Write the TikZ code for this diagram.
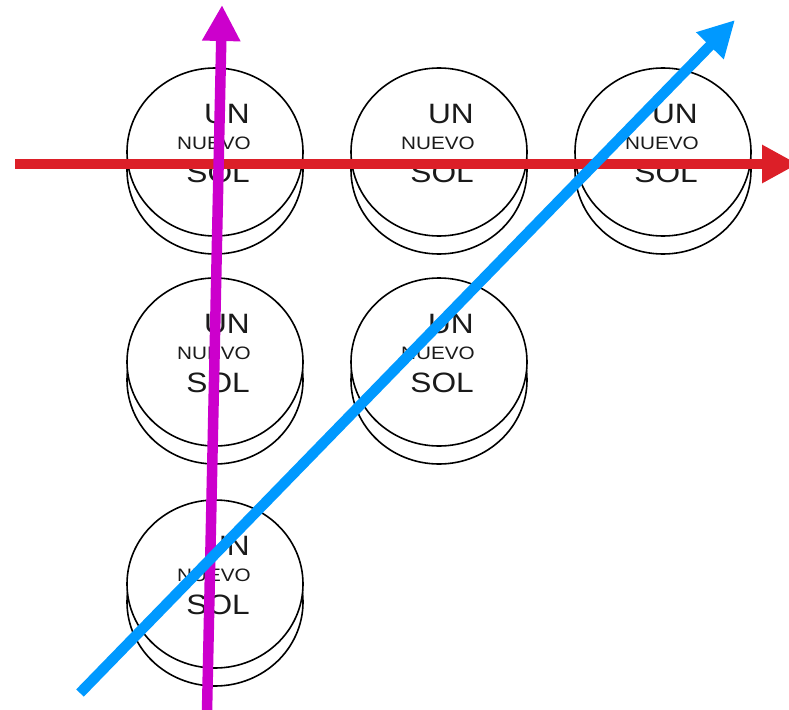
\documentclass[tikz,border=0pt]{standalone}
\usepackage{fontspec}
\setmainfont{Liberation Sans}
\usetikzlibrary{arrows.meta}
\definecolor{redA}{HTML}{DC1F28}
\definecolor{magA}{HTML}{CC00CC}
\definecolor{bluA}{HTML}{0099FF}
\definecolor{txt}{HTML}{1A1A1A}
\tikzset{
  coinline/.style={draw=black,line width=1.6pt,fill=white},
  bigtxt/.style={anchor=base east,inner sep=0pt,xscale=1.13,transform shape,font=\fontsize{28}{28}\selectfont,text=txt},
  smalltxt/.style={anchor=base east,inner sep=0pt,xscale=1.15,transform shape,font=\fontsize{18}{18}\selectfont,text=txt},
  bigarrow/.style={line width=10.5pt,-{Triangle[length=36pt,width=36pt]}}
}
\newcommand{\mycoin}[3]{%
  \path[coinline] (#1,#2+18) ellipse[x radius=88,y radius=84];
  \path[coinline] (#1,#2) ellipse[x radius=88,y radius=84];
  \node[bigtxt] (#3u) at (#1+35,#2-29) {UN};
  \node[smalltxt] (#3n) at (#1+36,#2-3) {NUEVO};
  \node[bigtxt] (#3s) at (#1+35,#2+30) {SOL};
}
\begin{document}
\begin{tikzpicture}[x=1pt,y=-1pt]
\useasboundingbox (0,0) rectangle (789,709);
\mycoin{215}{152}{a}
\mycoin{439}{152}{b}
\mycoin{663}{152}{c}
\mycoin{215}{362}{d}
\mycoin{439}{362}{e}
\mycoin{215}{584}{f}
\coordinate (r0) at (15,164);
\coordinate (r1) at (798,164);
\coordinate (m0) at (207,712);
\coordinate (m1) at (222,5);
\coordinate (b0) at (80,693);
\coordinate (b1) at (735,20);
\draw[bigarrow,redA] (r0) -- (r1);
\draw[bigarrow,magA] (m0) -- (m1);
\draw[bigarrow,bluA] (b0) -- (b1);
\end{tikzpicture}
\end{document}
